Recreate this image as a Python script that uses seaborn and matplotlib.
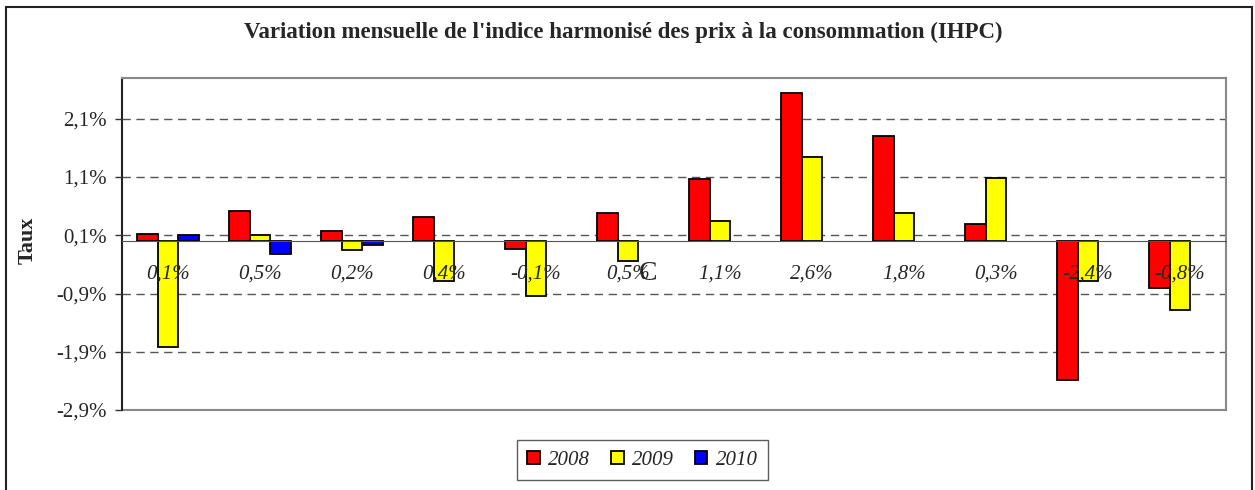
import matplotlib
matplotlib.use("Agg")
import matplotlib.pyplot as plt
import seaborn as sns
import pandas as pd
import numpy as np
from matplotlib.patches import Rectangle

# data (monthly change, %)
mois = ["Jan", "Fév", "Mar", "Avr", "Mai", "Jun", "Jul", "Aoû", "Sep", "Oct", "Nov", "Déc"]
v2008 = [0.13, 0.52, 0.17, 0.42, -0.13, 0.48, 1.07, 2.54, 1.80, 0.29, -2.38, -0.81]
v2009 = [-1.81, 0.10, -0.16, -0.68, -0.94, -0.35, 0.35, 1.45, 0.48, 1.09, -0.68, -1.19]
v2010 = [0.10, -0.23, -0.07] + [np.nan] * 9
labels_x = ["0,1%", "0,5%", "0,2%", "0,4%", "-0,1%", "0,5%", "1,1%", "2,6%", "1,8%", "0,3%", "-2,4%", "-0,8%"]
yticks = [-2.9, -1.9, -0.9, 0.1, 1.1, 2.1]
ytick_labels = ["-2,9%", "-1,9%", "-0,9%", "0,1%", "1,1%", "2,1%"]
annees = ["2008", "2009", "2010"]
couleurs = ["#ff0000", "#ffff00", "#0000ff"]

df = pd.DataFrame({
    "Mois": mois * 3,
    "Année": sum([[a] * 12 for a in annees], []),
    "Taux": v2008 + v2009 + v2010,
})

sns.set_style("white")
plt.rcParams["font.family"] = ["Liberation Serif", "DejaVu Serif"]

fig = plt.figure(figsize=(12.55, 4.9), dpi=100)
ax = fig.add_axes([0.0972, 0.1633, 0.8797, 0.6775])

sns.barplot(data=df, x="Mois", y="Taux", hue="Année", order=mois, hue_order=annees,
            palette=couleurs, width=0.67, edgecolor="black", linewidth=1.3,
            saturation=1, ax=ax, legend=True)

# labels of the category axis sit on top of the bars
ax.set_axisbelow(False)

ax.set_ylim(-2.9, 2.8)
ax.set_xlim(-0.5, 11.5)
ax.set_yticks(yticks)
ax.set_yticklabels(ytick_labels, fontsize=15)
ax.tick_params(axis="y", direction="out", length=5, width=1, color="#333333", pad=6, left=True)
for y in yticks:
    ax.axhline(y, color="#555555", lw=1, ls=(0, (6, 4)), zorder=0)

# category axis crosses at zero
ax.spines["bottom"].set_position(("data", 0))
ax.spines["bottom"].set_color("#555555")
ax.set_xticks(range(12))
ax.set_xticklabels(labels_x, fontsize=15, style="italic")
ax.tick_params(axis="x", length=0, pad=17, bottom=True)
ax.set_xticks(np.arange(0.5, 11.5, 1), minor=True)
ax.tick_params(axis="x", which="minor", direction="inout", length=12, width=1, color="#333333")

ax.spines["left"].set_color("#222222")
ax.spines["left"].set_linewidth(1.5)
for s in ["top", "right"]:
    ax.spines[s].set_color("#888888")
    ax.spines[s].set_linewidth(1.5)
ax.plot([0, 1], [0, 0], transform=ax.transAxes, color="#888888", lw=1.5, clip_on=False)

ax.set_xlabel("")
ax.set_ylabel("")
ax.text(5.22, -0.55, "C", fontsize=20, ha="center", va="center", zorder=5)

handles, lbls = ax.get_legend_handles_labels()
ax.get_legend().remove()
leg = fig.legend(handles, lbls, loc="center", bbox_to_anchor=(0.512, 0.061), ncol=3,
                 prop={"size": 15, "style": "italic"}, frameon=True, fancybox=False,
                 edgecolor="#333333", handlelength=0.6, handleheight=0.6,
                 handletextpad=0.4, columnspacing=1.0, borderpad=0.5, borderaxespad=0)
leg.get_frame().set_linewidth(1)

fig.text(0.4965, 0.933, "Variation mensuelle de l'indice harmonisé des prix à la consommation (IHPC)",
         ha="center", va="center", fontsize=16.5, fontweight="bold")
fig.text(0.022, 0.51, "Taux", rotation=90, ha="center", va="center", fontsize=16, fontweight="bold")

fig.patches.append(Rectangle((0.005, -0.05), 0.993, 1.036, transform=fig.transFigure,
                             fill=False, edgecolor="#222222", lw=1.5))

fig.savefig("out.png", dpi=100)
